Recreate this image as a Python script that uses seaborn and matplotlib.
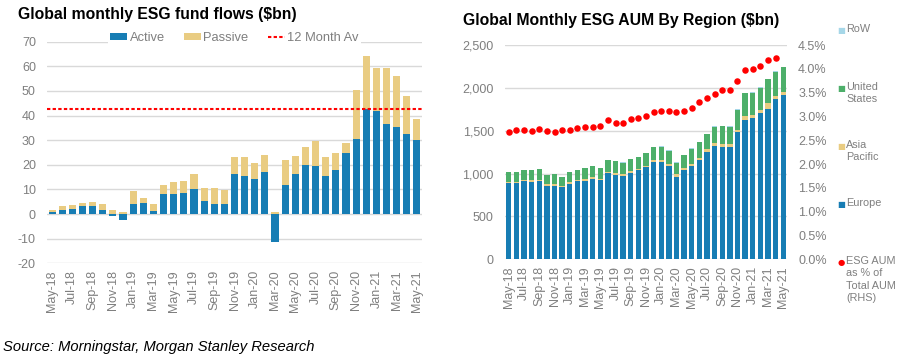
import matplotlib
matplotlib.use("Agg")
import matplotlib.pyplot as plt
import matplotlib.ticker as mticker
import seaborn as sns
import numpy as np
import pandas as pd

# ---- data ----
months = list(pd.date_range("2018-05-01", periods=37, freq="MS").strftime("%b-%y"))

# Left: global monthly ESG fund flows ($bn)
active = np.array([0.7, 1.8, 1.9, 3.2, 3.2, 1.6, -0.8, -2.3, 3.9, 4.6, 1.4, 8.1, 8.1,
                   8.5, 10.3, 5.5, 4.1, 4.2, 16.3, 15.6, 14.2, 16.9, -11.5, 11.8, 16.3,
                   19.8, 19.4, 15.6, 17.9, 24.6, 30.6, 42.7, 41.7, 36.4, 35.4, 32.4, 29.9])
passive = np.array([0.9, 1.4, 1.9, 1.4, 1.8, 2.5, 1.6, 0.8, 5.3, 2.0, 2.7, 3.5, 4.9,
                    5.0, 5.9, 4.9, 6.5, 5.5, 7.0, 7.4, 6.5, 7.1, 1.0, 10.1, 7.3,
                    7.3, 10.1, 7.7, 6.9, 4.4, 19.7, 21.6, 17.5, 23.1, 20.5, 15.4, 8.8])
avg_12m = 42.7

# Right: global monthly ESG AUM by region ($bn)
europe = np.array([892, 885, 908, 904, 912, 858, 858, 838, 881, 908, 916, 939, 920,
                   1001, 981, 970, 1008, 1036, 1071, 1131, 1135, 1093, 964, 1041, 1089,
                   1158, 1252, 1322, 1314, 1314, 1486, 1625, 1649, 1710, 1758, 1866, 1917])
asia = np.array([15, 15, 16, 16, 17, 15, 15, 15, 16, 17, 17, 18, 17,
                 20, 20, 20, 21, 22, 22, 24, 24, 23, 27, 20, 22,
                 23, 30, 30, 35, 27, 27, 45, 31, 31, 65, 40, 40])
us = np.array([110, 117, 113, 117, 119, 112, 120, 109, 120, 115, 127, 126, 123,
               135, 140, 139, 139, 137, 148, 157, 155, 151, 136, 156, 179,
               188, 180, 195, 206, 206, 233, 266, 264, 261, 277, 283, 283])
row = np.array([3] * 37)
esg_pct = np.array([2.68, 2.71, 2.71, 2.70, 2.73, 2.69, 2.68, 2.72, 2.72, 2.75, 2.77, 2.78, 2.80,
                    2.93, 2.87, 2.87, 2.94, 2.96, 3.01, 3.10, 3.11, 3.12, 3.10, 3.11, 3.18,
                    3.30, 3.38, 3.47, 3.56, 3.56, 3.75, 3.97, 3.99, 4.06, 4.19, 4.23, np.nan])

BLUE = "#177db4"
TAN = "#e9cc82"
GREEN = "#4daf6a"
LIGHT = "#a6d7e8"
GREY = "#7f7f7f"
GRID = "#d9d9d9"

sns.set_theme(style="white")
plt.rcParams["font.family"] = ["Liberation Sans", "DejaVu Sans"]
plt.rcParams["axes.unicode_minus"] = False

W, H = 921, 361
fig = plt.figure(figsize=(W / 100, H / 100), dpi=100)
ax1 = fig.add_axes([47 / W, 1 - 263.3 / H, (422 - 47) / W, (263.3 - 41.7) / H])
ax2 = fig.add_axes([505 / W, 1 - 259.3 / H, (787 - 505) / W, (259.3 - 45) / H])

n = len(months)


def style_axis(ax):
    for s in ax.spines.values():
        s.set_visible(False)
    ax.yaxis.grid(True, color=GRID, lw=1)
    ax.set_axisbelow(True)
    ax.tick_params(axis="both", length=0, labelcolor=GREY, labelsize=9)
    ax.tick_params(axis="y", pad=8)
    ax.tick_params(axis="x", pad=5)
    ax.set_xticks(range(0, n, 2))
    ax.set_xticklabels(months[::2], rotation=90)
    ax.set_xlim(-0.5, n - 0.5)
    ax.set_xlabel("")
    ax.set_ylabel("")


# ---- left chart ----
sns.barplot(x=months, y=active, color=BLUE, saturation=1, width=0.7, errorbar=None,
            linewidth=0, label="Active", ax=ax1)
sns.barplot(x=months, y=passive, bottom=np.clip(active, 0, None), color=TAN, saturation=1,
            width=0.7, errorbar=None, linewidth=0, label="Passive", ax=ax1)
ax1.axhline(avg_12m, color="#ff0000", lw=1.5, ls=(0, (1.6, 1.1)), label="12 Month Av")
style_axis(ax1)
ax1.set_ylim(-20, 70)
ax1.set_yticks(range(-20, 71, 10))
h, l = ax1.get_legend_handles_labels()
order = [l.index(name) for name in ["Active", "Passive", "12 Month Av"]]
leg = ax1.legend([h[i] for i in order], [l[i] for i in order], loc="center",
                 bbox_to_anchor=(0.5, 1.017), ncol=3, fontsize=9.3,
                 frameon=True, framealpha=1, facecolor="white", edgecolor="white",
                 handlelength=1.3, handleheight=0.5, handletextpad=0.2,
                 columnspacing=1.5, borderpad=0.2, labelcolor=GREY)
leg.get_frame().set_linewidth(0)

# ---- right chart ----
sns.barplot(x=months, y=europe, color=BLUE, saturation=1, width=0.7, errorbar=None,
            linewidth=0, ax=ax2)
sns.barplot(x=months, y=asia, bottom=europe, color=TAN, saturation=1, width=0.7,
            errorbar=None, linewidth=0, ax=ax2)
sns.barplot(x=months, y=us, bottom=europe + asia, color=GREEN, saturation=1, width=0.7,
            errorbar=None, linewidth=0, ax=ax2)
sns.barplot(x=months, y=row, bottom=europe + asia + us, color=LIGHT, saturation=1,
            width=0.7, errorbar=None, linewidth=0, ax=ax2)
style_axis(ax2)
ax2.set_ylim(0, 2500)
ax2.set_yticks(range(0, 2501, 500))
ax2.yaxis.set_major_formatter(mticker.FuncFormatter(lambda v, _: f"{v:,.0f}"))

ax2r = ax2.twinx()
sns.scatterplot(x=np.arange(n), y=esg_pct, color="#ff0000", s=22, linewidth=0, ax=ax2r)
ax2r.set_ylim(0, 4.5)
ax2r.set_yticks(np.arange(0, 4.51, 0.5))
ax2r.yaxis.set_major_formatter(mticker.FormatStrFormatter("%.1f%%"))
for s in ax2r.spines.values():
    s.set_visible(False)
ax2r.tick_params(axis="y", length=0, labelcolor=GREY, labelsize=9, pad=8)
ax2r.set_ylabel("")
ax2.set_xlim(-0.5, n - 0.5)

# right legend, stacked vertically like the original
legend_items = [("RoW", LIGHT, "■", 30),
                ("United\nStates", GREEN, "■", 88),
                ("Asia\nPacific", TAN, "■", 146),
                ("Europe", BLUE, "■", 204),
                ("ESG AUM\nas % of\nTotal AUM\n(RHS)", "#ff0000", "●", 262)]
for label, col, glyph, yc in legend_items:
    fig.text(841.5 / W, 1 - yc / H, glyph, color=col, fontsize=6, ha="center", va="center",
             family="DejaVu Sans")
    fig.text(846 / W, 1 - (yc - 6) / H, label, color=GREY, fontsize=7.8, ha="left",
             va="top", linespacing=1.3)

# titles and source
fig.text(18 / W, 1 - 15 / H, "Global monthly ESG fund flows ($bn)", fontsize=11.3,
         fontweight="bold", va="center", color="black")
fig.text(463 / W, 1 - 21 / H, "Global Monthly ESG AUM By Region ($bn)", fontsize=11.3,
         fontweight="bold", va="center", color="black")
fig.text(3 / W, 1 - 347.5 / H, "Source: Morningstar, Morgan Stanley Research",
         fontsize=10.6, style="italic", va="center", color="black")

fig.savefig("out.png", dpi=100)
